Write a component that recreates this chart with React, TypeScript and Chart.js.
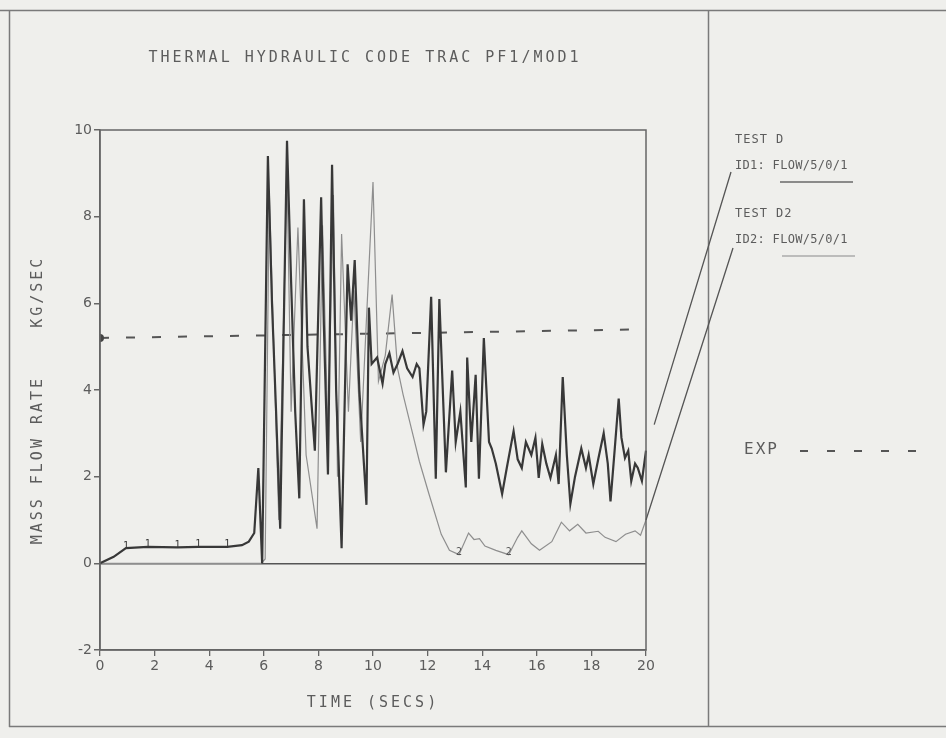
import React, { useEffect, useRef } from 'react';
import { Chart, registerables } from 'chart.js';

Chart.register(...registerables);

// TRAC PF1/MOD1 mass flow rate (kg/s) against time (s)
const testDTime = [
  0, 0.5, 0.95, 1.75, 2.84, 3.6, 4.66, 5.2, 5.45, 5.65, 5.8, 5.94, 6.15, 6.3, 6.45, 6.6,
  6.85, 7.0, 7.15, 7.3, 7.47, 7.6, 7.87, 8.1, 8.2, 8.35, 8.5, 8.65, 8.85, 9.07, 9.2, 9.33,
  9.5, 9.76, 9.85, 9.95, 10.15, 10.35, 10.45, 10.6, 10.75, 10.9, 11.08, 11.25, 11.45, 11.6,
  11.7, 11.85, 11.95, 12.13, 12.3, 12.43, 12.67, 12.9, 13.03, 13.2, 13.4, 13.45, 13.6, 13.76,
  13.88, 14.06, 14.25, 14.35, 14.5, 14.73, 14.9, 15.15, 15.3, 15.45, 15.6, 15.8, 15.95, 16.07,
  16.2, 16.35, 16.5, 16.7, 16.8, 16.95, 17.1, 17.23, 17.4, 17.63, 17.8, 17.9, 18.07, 18.25,
  18.45, 18.6, 18.7, 18.85, 19.0, 19.1, 19.23, 19.35, 19.46, 19.6, 19.7, 19.85, 20.0, 20.3,
];
const testDFlow = [
  0, 0.15, 0.35, 0.38, 0.37, 0.38, 0.38, 0.42, 0.5, 0.7, 2.2, 0.0, 9.4, 6.0, 3.5, 0.8,
  9.75, 6.5, 3.5, 1.5, 8.4, 5.0, 2.6, 8.45, 5.5, 2.05, 9.2, 4.0, 0.35, 6.9, 5.6, 7.0,
  4.0, 1.35, 5.9, 4.6, 4.75, 4.15, 4.6, 4.85, 4.4, 4.6, 4.9, 4.5, 4.3, 4.6,
  4.5, 3.2, 3.5, 6.15, 1.95, 6.1, 2.1, 4.45, 2.8, 3.5, 1.75, 4.75, 2.8, 4.35,
  1.95, 5.2, 2.8, 2.65, 2.3, 1.6, 2.2, 3.05, 2.4, 2.2, 2.8, 2.5, 2.9, 1.97,
  2.75, 2.3, 1.97, 2.5, 1.83, 4.3, 2.5, 1.37, 2.0, 2.65, 2.2, 2.5, 1.83, 2.4,
  3.0, 2.3, 1.43, 2.6, 3.8, 2.9, 2.43, 2.6, 1.9, 2.3, 2.2, 1.9, 2.6, 3.2,
];
const testD2Time = [
  0, 2.6, 5.9, 6.05, 6.2, 6.55, 6.85, 7.0, 7.25, 7.55, 7.95, 8.15, 8.35, 8.55, 8.7, 8.85,
  9.1, 9.3, 9.55, 9.75, 10.0, 10.2, 10.45, 10.7, 10.9, 11.1, 11.45, 11.7, 12.05, 12.5, 12.8,
  13.15, 13.5, 13.7, 13.9, 14.1, 14.5, 14.97, 15.3, 15.45, 15.8, 16.1, 16.55, 16.9, 17.2,
  17.5, 17.8, 18.25, 18.5, 18.9, 19.25, 19.6, 19.8, 20.0,
];
const testD2Flow = [
  0, 0, 0, 0.1, 8.6, 1.0, 9.0, 3.5, 7.75, 2.5, 0.8, 7.8, 3.0, 8.5, 2.0, 7.6,
  3.5, 6.3, 2.8, 5.5, 8.8, 4.2, 4.8, 6.2, 4.5, 3.9, 3.0, 2.35, 1.6, 0.67, 0.3,
  0.2, 0.7, 0.55, 0.57, 0.4, 0.3, 0.2, 0.6, 0.75, 0.45, 0.3, 0.5, 0.95, 0.75,
  0.9, 0.7, 0.74, 0.6, 0.5, 0.67, 0.75, 0.65, 1.0,
];
const expTime = [0, 20];
const expFlow = [5.2, 5.4];

const testDMarkTimes = [0.95, 1.75, 2.84, 3.6, 4.66];
const testD2MarkTimes = [13.15, 14.97];

const xTickLabels = ['0', '2', '4', '6', '8', '10', '12', '14', '16', '18', '20'];
const yTickValues = [-2, 0, 2, 4, 6, 8, 10];

const titleText = 'THERMAL HYDRAULIC CODE TRAC PF1/MOD1';
const xTitle = 'TIME (SECS)';
const yTitle = 'MASS FLOW RATE    KG/SEC';
const legendD = ['TEST D', 'ID1: FLOW/5/0/1'];
const legendD2 = ['TEST D2', 'ID2: FLOW/5/0/1'];
const legendExp = 'EXP';

const W = 946;
const H = 738;
const PAPER = '#efefec';
const INK = '#5c5c5c';
const DARK = '#383838';
const LIGHT = '#8e8e8e';
const MONO = '"DejaVu Sans Mono", monospace';

const toPoints = (xs: number[], ys: number[]) => xs.map((x, i) => ({ x, y: ys[i] }));

const spacedText = (ctx: CanvasRenderingContext2D, text: string, x: number, y: number, font: string, spacing: number, align: CanvasTextAlign = 'left') => {
  ctx.save();
  ctx.font = font;
  (ctx as any).letterSpacing = spacing + 'px';
  ctx.textAlign = align;
  ctx.textBaseline = 'middle';
  ctx.fillText(text, x, y);
  ctx.restore();
};

const sheetPlugin = {
  id: 'sheet',
  beforeDraw(chart: any) {
    const ctx = chart.ctx as CanvasRenderingContext2D;
    ctx.save();
    ctx.fillStyle = PAPER;
    ctx.fillRect(0, 0, W, H);
    ctx.restore();
  },
  afterDraw(chart: any) {
    const ctx = chart.ctx as CanvasRenderingContext2D;
    const { left, right, top, bottom } = chart.chartArea;
    const xs = chart.scales.x;
    const ys = chart.scales.y;
    ctx.save();

    // sheet frame and panel divider
    ctx.strokeStyle = '#7a7a7a';
    ctx.lineWidth = 1.5;
    ctx.beginPath();
    ctx.moveTo(0, 10.5); ctx.lineTo(W, 10.5);
    ctx.moveTo(9.5, 10); ctx.lineTo(9.5, 727);
    ctx.moveTo(9, 726.5); ctx.lineTo(W, 726.5);
    ctx.moveTo(708.5, 10); ctx.lineTo(708.5, 727);
    ctx.stroke();

    // plot box
    ctx.strokeStyle = '#666';
    ctx.lineWidth = 1.5;
    ctx.strokeRect(left, top, right - left, bottom - top);

    // titles
    ctx.fillStyle = INK;
    spacedText(ctx, titleText, 365, 58, '15px ' + MONO, 3, 'center');
    spacedText(ctx, xTitle, (left + right) / 2, 703, '15px ' + MONO, 3, 'center');
    ctx.save();
    ctx.translate(38, (top + bottom) / 2 + 10);
    ctx.rotate(-Math.PI / 2);
    spacedText(ctx, yTitle, 0, 0, '15px ' + MONO, 3, 'center');
    ctx.restore();

    // series symbols along the curves
    ctx.fillStyle = DARK;
    ctx.font = '10px ' + MONO;
    ctx.textAlign = 'center';
    ctx.textBaseline = 'middle';
    testDMarkTimes.forEach((t) => {
      const i = testDTime.indexOf(t);
      if (i >= 0) ctx.fillText('1', xs.getPixelForValue(t), ys.getPixelForValue(testDFlow[i]) - 2);
    });
    ctx.fillStyle = '#555';
    testD2MarkTimes.forEach((t) => {
      const i = testD2Time.indexOf(t);
      if (i >= 0) ctx.fillText('2', xs.getPixelForValue(t), ys.getPixelForValue(testD2Flow[i]) - 2);
    });

    // legend panel
    ctx.fillStyle = INK;
    spacedText(ctx, legendD[0], 735, 140, '12px ' + MONO, 1);
    spacedText(ctx, legendD[1], 735, 166, '12px ' + MONO, 0.3);
    spacedText(ctx, legendD2[0], 735, 214, '12px ' + MONO, 1);
    spacedText(ctx, legendD2[1], 735, 240, '12px ' + MONO, 0.3);
    spacedText(ctx, legendExp, 744, 450, '16px ' + MONO, 2);

    ctx.lineWidth = 1.6;
    ctx.strokeStyle = '#6a6a6a';
    ctx.beginPath(); ctx.moveTo(780, 182); ctx.lineTo(853, 182); ctx.stroke();
    ctx.strokeStyle = '#8a8a8a';
    ctx.lineWidth = 1.2;
    ctx.beginPath(); ctx.moveTo(782, 256); ctx.lineTo(855, 256); ctx.stroke();

    ctx.strokeStyle = '#555';
    ctx.lineWidth = 2;
    ctx.setLineDash([8, 19]);
    ctx.beginPath(); ctx.moveTo(800, 451); ctx.lineTo(935, 451); ctx.stroke();
    ctx.setLineDash([]);

    // leader lines from the legend to the curve ends
    const endD = { x: xs.getPixelForValue(testDTime[testDTime.length - 1]), y: ys.getPixelForValue(testDFlow[testDFlow.length - 1]) };
    const endD2 = { x: xs.getPixelForValue(testD2Time[testD2Time.length - 1]), y: ys.getPixelForValue(testD2Flow[testD2Flow.length - 1]) };
    ctx.strokeStyle = '#555';
    ctx.lineWidth = 1.3;
    ctx.beginPath();
    ctx.moveTo(731, 172); ctx.lineTo(endD.x, endD.y);
    ctx.moveTo(733, 248); ctx.lineTo(endD2.x, endD2.y);
    ctx.stroke();

    ctx.restore();
  },
};

export default function App() {
  const canvasRef = useRef<HTMLCanvasElement | null>(null);

  useEffect(() => {
    document.body.style.margin = '0';
    const canvas = canvasRef.current;
    if (!canvas) return;
    const chart = new Chart(canvas, {
      type: 'line',
      data: {
        datasets: [
          {
            label: 'EXP',
            data: toPoints(expTime, expFlow),
            borderColor: '#555',
            backgroundColor: '#444',
            borderWidth: 2,
            borderDash: [9, 17],
            pointRadius: [4, 0],
            pointBorderWidth: 0,
            order: 3,
          },
          {
            label: legendD2[1],
            data: toPoints(testD2Time, testD2Flow),
            borderColor: LIGHT,
            borderWidth: 1.2,
            pointRadius: 0,
            order: 2,
          },
          {
            label: legendD[1],
            data: toPoints(testDTime, testDFlow),
            borderColor: DARK,
            borderWidth: 2.2,
            pointRadius: 0,
            clip: false as any,
            order: 1,
          },
        ],
      },
      options: {
        animation: false,
        responsive: false,
        devicePixelRatio: 1,
        layout: { padding: { top: 130, right: W - 646, bottom: 0, left: 0 } },
        plugins: { legend: { display: false }, tooltip: { enabled: false }, title: { display: false } },
        elements: { line: { tension: 0 } },
        scales: {
          x: {
            type: 'linear',
            min: 0,
            max: 20,
            afterFit: (s: any) => { s.height = H - 650; },
            afterBuildTicks: (s: any) => { s.ticks = xTickLabels.map((_, i) => ({ value: i * 2 })); },
            ticks: {
              color: INK,
              font: { family: 'DejaVu Sans', size: 14 },
              padding: 2,
              maxRotation: 0,
              autoSkip: false,
              callback: (_v: any, i: number) => xTickLabels[i],
            },
            grid: { drawOnChartArea: false, tickLength: 6, color: '#666', lineWidth: 1.3 },
            border: { color: '#666', width: 1.5 },
          },
          y: {
            type: 'linear',
            min: -2,
            max: 10,
            afterFit: (s: any) => { s.width = 100; },
            afterBuildTicks: (s: any) => { s.ticks = yTickValues.map((v) => ({ value: v })); },
            ticks: {
              color: INK,
              font: { family: 'DejaVu Sans', size: 14 },
              padding: 2,
              autoSkip: false,
              callback: (v: any) => String(v),
            },
            grid: {
              drawOnChartArea: true,
              tickLength: 6,
              color: (c: any) => (c.tick && c.tick.value === 0 ? '#555' : 'rgba(0,0,0,0)'),
              tickColor: '#666',
              lineWidth: 1.5,
            },
            border: { color: '#666', width: 1.5 },
          },
        },
      },
      plugins: [sheetPlugin],
    });
    return () => chart.destroy();
  }, []);

  return <canvas ref={canvasRef} width={W} height={H} style={{ display: 'block', width: W, height: H }} />;
}
